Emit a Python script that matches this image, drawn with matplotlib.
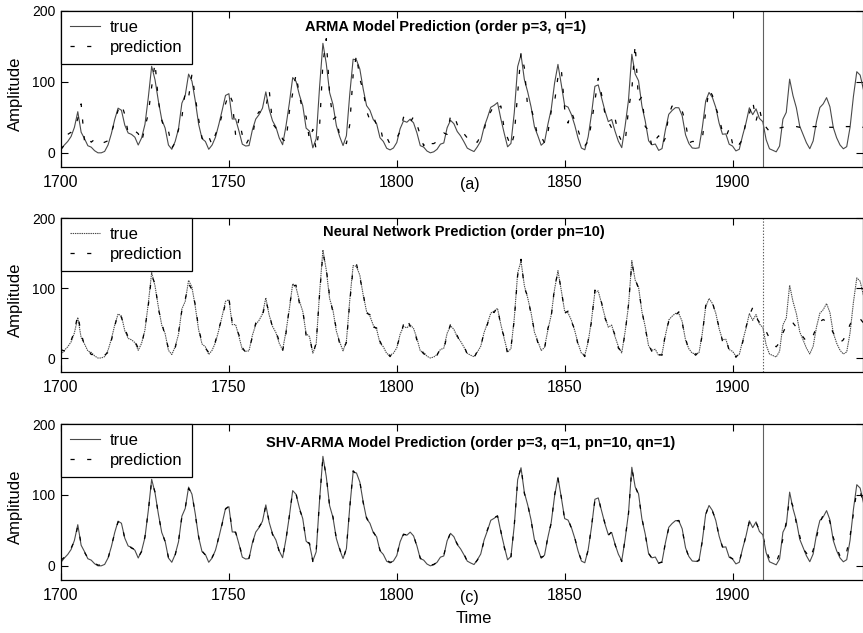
import matplotlib
matplotlib.use("Agg")
import matplotlib.pyplot as plt
import numpy as np

plt.rcParams['font.family'] = ['Liberation Sans', 'DejaVu Sans']
plt.rcParams['lines.scale_dashes'] = False

start_year = 1700
split_year = 1909

true_vals = [
    5, 11, 16, 23, 36, 58, 29, 20, 10, 8,
    3, 0, 0, 2, 11, 27, 47, 63, 60, 39,
    28, 26, 22, 11, 21, 40, 78, 122, 103, 73,
    47, 35, 11, 5, 16, 34, 70, 81, 111, 101,
    73, 40, 20, 16, 5, 11, 22, 40, 60, 80.9,
    83.4, 47.7, 47.8, 30.7, 12.2, 9.6, 10.2, 32.4, 47.6, 54.0,
    62.9, 85.9, 61.2, 45.1, 36.4, 20.9, 11.4, 37.8, 69.8, 106.1,
    100.8, 81.6, 66.5, 34.8, 30.6, 7.0, 19.8, 92.5, 154.4, 125.9,
    84.8, 68.1, 38.5, 22.8, 10.2, 24.1, 82.9, 132.0, 130.9, 118.1,
    89.9, 66.6, 60.0, 46.9, 41.0, 21.3, 16.0, 6.4, 4.1, 6.8,
    14.5, 34.0, 45.0, 43.1, 47.5, 42.2, 28.1, 10.1, 8.1, 2.5,
    0.0, 1.4, 5.0, 12.2, 13.9, 35.4, 45.8, 41.1, 30.1, 23.9,
    15.6, 6.6, 4.0, 1.8, 8.5, 16.6, 36.3, 49.6, 64.2, 67.0,
    70.9, 47.8, 27.5, 8.5, 13.2, 56.9, 121.5, 138.3, 103.2, 85.7,
    64.6, 36.7, 24.2, 10.7, 15.0, 40.1, 61.5, 98.5, 124.7, 96.3,
    66.6, 64.5, 54.1, 39.0, 20.6, 6.7, 4.3, 22.7, 54.8, 93.8,
    95.8, 77.2, 59.1, 44.0, 47.0, 30.5, 16.3, 7.3, 37.6, 74.0,
    139.0, 111.2, 101.6, 66.2, 44.7, 17.0, 11.3, 12.4, 3.4, 6.0,
    32.3, 54.3, 59.7, 63.7, 63.5, 52.2, 25.4, 13.1, 6.8, 6.3,
    7.1, 35.6, 73.0, 85.1, 78.0, 64.0, 41.8, 26.2, 26.7, 12.1,
    9.5, 2.7, 5.0, 24.4, 42.0, 63.5, 53.8, 62.0, 48.5, 43.9,
    18.6, 5.7, 3.6, 1.4, 9.6, 47.4, 57.1, 103.9, 80.6, 63.6,
    37.6, 26.1, 14.2, 5.8, 16.7, 44.3, 63.9, 69.0, 77.8, 64.9,
    35.7, 21.2, 11.1, 5.7, 8.7, 36.1, 79.7, 114.4, 109.6, 88.8,
]

pred_arma = [
    5, 11, 26, 29, 35, 48, 69, 16, 23, 15,
    19, 14, 13, 15, 17, 28, 44, 60, 69, 54,
    28, 27, 31, 27, 15, 36, 55, 93, 127, 73,
    46, 30, 31, 7, 14, 33, 50, 86, 78, 111,
    78, 47, 21, 15, 23, 11, 26, 37, 54, 69,
    84, 73, 25, 48, 25, 11, 20, 22, 51, 58,
    56, 64, 89, 41, 35, 34, 19, 16, 58, 84,
    111, 81, 59, 51, 18, 33, 4, 37, 126, 161,
    83, 47, 51, 23, 20, 13, 40, 110, 138, 104,
    88, 59, 46, 52, 39, 39, 16, 22, 12, 16,
    21, 30, 50, 53, 43, 51, 40, 25, 10, 19,
    13, 13, 16, 21, 28, 26, 52, 54, 40, 28,
    27, 21, 14, 16, 15, 25, 32, 52, 58, 68,
    63, 66, 33, 21, 9, 26, 83, 141, 120, 63,
    63, 46, 22, 23, 14, 28, 59, 72, 107, 118,
    62, 42, 58, 45, 32, 17, 10, 16, 43, 73,
    105, 82, 55, 44, 35, 49, 26, 16, 14, 61,
    89, 153, 73, 79, 37, 32, 8, 18, 24, 11,
    21, 54, 66, 60, 61, 59, 43, 14, 16, 16,
    18, 20, 58, 89, 81, 64, 50, 29, 22, 34,
    13, 20, 12, 19, 44, 55, 73, 45, 63, 40,
    36, 30, 31, 33, 35, 36, 37, 37, 37, 37,
    36, 36, 36, 36, 37, 37, 37, 37, 36, 36,
    36, 36, 36, 37, 37, 37, 37, 36, 36, 36,
]

pred_nn = [
    12, 10, 18, 25, 38, 62, 35, 18, 12, 5,
    5, 4, 2, 4, 8, 25, 45, 65, 58, 42,
    30, 24, 24, 14, 18, 42, 75, 118, 106, 70,
    50, 32, 14, 8, 14, 36, 68, 84, 106, 98,
    76, 42, 22, 14, 8, 12, 24, 42, 58, 78,
    86, 50, 45, 33, 15, 8, 12, 30, 50, 57,
    60, 82, 64, 43, 38, 24, 10, 35, 72, 103,
    104, 78, 69, 32, 33, 5, 22, 90, 150, 128,
    88, 65, 42, 20, 12, 22, 80, 128, 134, 115,
    92, 64, 62, 44, 43, 24, 14, 8, 2, 9,
    16, 31, 48, 57, 45, 44, 25, 12, 6, 4,
    2, 3, 4, 14, 12, 33, 48, 39, 32, 22,
    18, 5, 6, 0, 10, 15, 38, 48, 66, 65,
    73, 45, 30, 6, 15, 55, 118, 141, 100, 88,
    62, 39, 22, 13, 13, 42, 59, 102, 122, 98,
    64, 67, 52, 41, 18, 9, 2, 25, 52, 97,
    93, 79, 57, 46, 45, 33, 14, 9, 35, 76,
    136, 113, 99, 68, 42, 19, 9, 14, 5, 4,
    35, 52, 62, 61, 66, 50, 28, 11, 9, 4,
    9, 33, 75, 83, 80, 62, 44, 24, 29, 10,
    12, 1, 7, 22, 44, 61, 72, 58, 51, 41,
    38, 28, 20, 16, 22, 36, 46, 52, 50, 44,
    38, 30, 24, 24, 32, 44, 52, 55, 52, 45,
    36, 28, 22, 26, 36, 48, 55, 58, 56, 50,
]

pred_shv = [
    8, 12, 15, 25, 35, 56, 31, 19, 11, 7,
    4, 1, 1, 3, 10, 28, 46, 62, 61, 38,
    29, 25, 23, 12, 20, 41, 77, 120, 104, 72,
    48, 34, 12, 6, 15, 35, 69, 82, 109, 102,
    72, 41, 21, 15, 6, 12, 21, 41, 59, 80,
    84, 48, 47, 32, 13, 9, 11, 31, 48, 55,
    62, 85, 62, 44, 37, 20, 12, 37, 70, 105,
    102, 80, 67, 34, 32, 6, 21, 92, 152, 127,
    84, 69, 38, 24, 9, 25, 82, 134, 129, 119,
    89, 68, 59, 48, 40, 22, 15, 8, 5, 6,
    14, 35, 44, 44, 46, 43, 27, 11, 7, 4,
    1, 2, 5, 11, 15, 34, 47, 40, 31, 23,
    17, 6, 5, 2, 8, 17, 35, 51, 63, 68,
    70, 49, 26, 10, 12, 58, 120, 140, 102, 87,
    63, 38, 23, 12, 14, 41, 60, 100, 123, 97,
    65, 66, 53, 40, 20, 8, 5, 22, 56, 92,
    97, 76, 60, 43, 48, 30, 17, 6, 38, 73,
    137, 112, 100, 67, 44, 18, 10, 13, 4, 5,
    33, 53, 61, 63, 64, 51, 26, 12, 8, 5,
    8, 35, 72, 86, 77, 65, 41, 27, 25, 13,
    10, 3, 6, 23, 43, 62, 55, 61, 50, 43,
    22, 10, 6, 4, 18, 38, 62, 95, 84, 60,
    42, 24, 18, 10, 22, 40, 60, 72, 74, 62,
    40, 25, 14, 10, 20, 42, 74, 106, 104, 90,
]

titles = [
    "ARMA Model Prediction (order p=3, q=1)",
    "Neural Network Prediction (order pn=10)",
    "SHV-ARMA Model Prediction (order p=3, q=1, pn=10, qn=1)",
]
panel_labels = ["(a)", "(b)", "(c)"]
xticks = [1700, 1750, 1800, 1850, 1900]
yticks = [0, 100, 200]

years = np.arange(start_year, start_year + len(true_vals))
preds = [pred_arma, pred_nn, pred_shv]

W, H = 863, 633
fig = plt.figure(figsize=(W / 100, H / 100), dpi=100)

# axes boxes in pixels: (top, bottom)
boxes = [(11, 167), (218, 372), (424, 580)]
left_px, right_px = 61, 862.5
title_pos = [(0.48, 0.897), (0.5025, 0.909), (0.511, 0.878)]
true_styles = ['-', (0, (1.0, 0.6)), '-']
vline_styles = ['-', (0, (1.0, 1.2)), '-']

for i, (top, bot) in enumerate(boxes):
    ax = fig.add_axes([left_px / W, 1 - bot / H, (right_px - left_px) / W, (bot - top) / H])
    ax.plot(years, true_vals, color='#4a4a4a', lw=0.8, ls=true_styles[i], label='true')
    ax.plot(years, preds[i], color='black', lw=0.9, ls=(0, (3, 9)), label='prediction')
    ax.axvline(split_year, color='#606060', lw=0.8, ls=vline_styles[i])
    ax.set_xlim(1700, 1938.7)
    ax.set_ylim(-20, 200)
    ax.set_xticks(xticks)
    ax.set_yticks(yticks)
    ax.tick_params(axis='both', direction='in', length=5, width=0.8,
                   top=True, right=True, colors='black')
    ax.tick_params(axis='x', labelsize=11.5, pad=6)
    ax.tick_params(axis='y', labelsize=10, pad=4)
    for sp in ax.spines.values():
        sp.set_linewidth(0.9)
    ax.set_ylabel("Amplitude", fontsize=12)
    ax.yaxis.set_label_coords(-0.048, 0.47)
    ax.text(title_pos[i][0], title_pos[i][1], titles[i], transform=ax.transAxes,
            ha='center', va='center', fontsize=10.5, fontweight='bold')
    ax.text(0.51, -0.112, panel_labels[i], transform=ax.transAxes,
            ha='center', va='center', fontsize=11.5)
    leg = ax.legend(loc='upper left', borderaxespad=0, fontsize=12,
                    fancybox=False, framealpha=1, edgecolor='black',
                    handlelength=1.8, handletextpad=0.6, labelspacing=0.28,
                    borderpad=0.55)
    leg.get_frame().set_linewidth(0.9)
    if i == 2:
        ax.text(0.515, -0.245, "Time", transform=ax.transAxes,
                ha='center', va='center', fontsize=12)

fig.savefig("out.png", dpi=100)
